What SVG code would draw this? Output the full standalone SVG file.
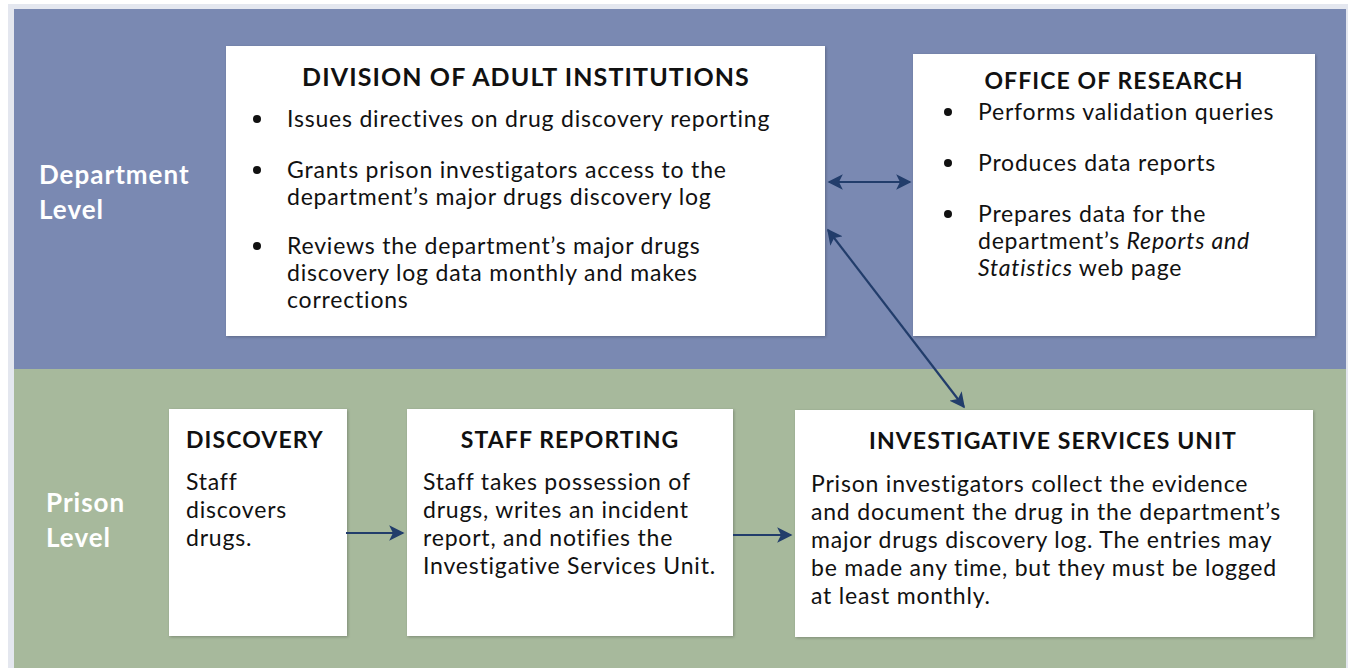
<svg xmlns="http://www.w3.org/2000/svg" width="1348" height="668" viewBox="0 0 1348 668">
<defs>
<style>
.t{font-family:Lato,"Noto Sans",sans-serif;fill:#111;font-size:23px;letter-spacing:0.8px}
.h{font-family:Lato,"Noto Sans",sans-serif;fill:#111;font-size:23px;font-weight:bold;letter-spacing:1.1px}
.h1{font-family:Lato,"Noto Sans",sans-serif;fill:#111;font-size:25px;font-weight:bold;letter-spacing:1.1px}
.lv{font-family:Lato,"Noto Sans",sans-serif;fill:#fff;font-size:26px;font-weight:bold;letter-spacing:1px}
.box{fill:#fff}
.c{stroke:#223d6b;stroke-width:2.2;fill:none}
</style>
<marker id="ah" viewBox="0 0 10 10" refX="9" refY="5" markerWidth="7" markerHeight="7" orient="auto-start-reverse" markerUnits="strokeWidth">
<path d="M0,0 L10,5 L0,10 L2.5,5 z" fill="#223d6b"/>
</marker>
<filter id="sh" x="-5%" y="-5%" width="110%" height="110%">
<feDropShadow dx="1" dy="1" stdDeviation="1.5" flood-color="#000" flood-opacity="0.25"/>
</filter>
</defs>
<rect x="0" y="0" width="1348" height="668" fill="#ffffff"/>
<rect x="8" y="4" width="1340" height="664" fill="#e4e7ef"/>
<g id="bands">
<rect x="14" y="9" width="1332" height="360" fill="#7a89b2"/>
<rect x="14" y="369" width="1332" height="299" fill="#a7b99c"/>
<text class="lv" x="39" y="184">Department</text>
<text class="lv" x="39" y="219">Level</text>
<text class="lv" x="46" y="512">Prison</text>
<text class="lv" x="46" y="547">Level</text>
</g>
<g id="dai">
<rect class="box" x="226" y="46" width="599" height="290" filter="url(#sh)"/>
<text class="h1" x="526" y="86" text-anchor="middle">DIVISION OF ADULT INSTITUTIONS</text>
<circle cx="257" cy="119" r="4" fill="#111"/>
<text class="t" x="287" y="127">Issues directives on drug discovery reporting</text>
<circle cx="257" cy="170" r="4" fill="#111"/>
<text class="t" x="287" y="178">Grants prison investigators access to the</text>
<text class="t" x="287" y="205">department’s major drugs discovery log</text>
<circle cx="257" cy="246" r="4" fill="#111"/>
<text class="t" x="287" y="254">Reviews the department’s major drugs</text>
<text class="t" x="287" y="281">discovery log data monthly and makes</text>
<text class="t" x="287" y="308">corrections</text>
</g>
<g id="oor">
<rect class="box" x="913" y="54" width="402" height="282" filter="url(#sh)"/>
<text class="h" x="1114" y="89" text-anchor="middle">OFFICE OF RESEARCH</text>
<circle cx="948" cy="112" r="4" fill="#111"/>
<text class="t" x="978" y="120">Performs validation queries</text>
<circle cx="948" cy="163" r="4" fill="#111"/>
<text class="t" x="978" y="171">Produces data reports</text>
<circle cx="948" cy="214" r="4" fill="#111"/>
<text class="t" x="978" y="222">Prepares data for the</text>
<text class="t" x="978" y="249">department’s <tspan font-style="italic">Reports and</tspan></text>
<text class="t" x="978" y="276"><tspan font-style="italic">Statistics</tspan> web page</text>
</g>
<g id="discovery">
<rect class="box" x="169" y="409" width="178" height="227" filter="url(#sh)"/>
<text class="h" x="186" y="448">DISCOVERY</text>
<text class="t" x="186" y="490">Staff</text>
<text class="t" x="186" y="518">discovers</text>
<text class="t" x="186" y="546">drugs.</text>
</g>
<g id="staff">
<rect class="box" x="407" y="409" width="326" height="227" filter="url(#sh)"/>
<text class="h" x="570" y="448" text-anchor="middle">STAFF REPORTING</text>
<text class="t" x="423" y="490">Staff takes possession of</text>
<text class="t" x="423" y="518">drugs, writes an incident</text>
<text class="t" x="423" y="546">report, and notifies the</text>
<text class="t" x="423" y="574">Investigative Services Unit.</text>
</g>
<g id="isu">
<rect class="box" x="795" y="410" width="518" height="227" filter="url(#sh)"/>
<text class="h" x="1053" y="449" text-anchor="middle">INVESTIGATIVE SERVICES UNIT</text>
<text class="t" x="811" y="492">Prison investigators collect the evidence</text>
<text class="t" x="811" y="520">and document the drug in the department’s</text>
<text class="t" x="811" y="548">major drugs discovery log. The entries may</text>
<text class="t" x="811" y="576">be made any time, but they must be logged</text>
<text class="t" x="811" y="604">at least monthly.</text>
</g>
<g id="connectors">
<line class="c" x1="829" y1="182" x2="910" y2="182" marker-start="url(#ah)" marker-end="url(#ah)"/>
<line class="c" x1="828" y1="230" x2="964" y2="407" marker-start="url(#ah)" marker-end="url(#ah)"/>
<line class="c" x1="346" y1="533" x2="403" y2="533" marker-end="url(#ah)"/>
<line class="c" x1="733" y1="535" x2="791" y2="535" marker-end="url(#ah)"/>
</g>
</svg>
